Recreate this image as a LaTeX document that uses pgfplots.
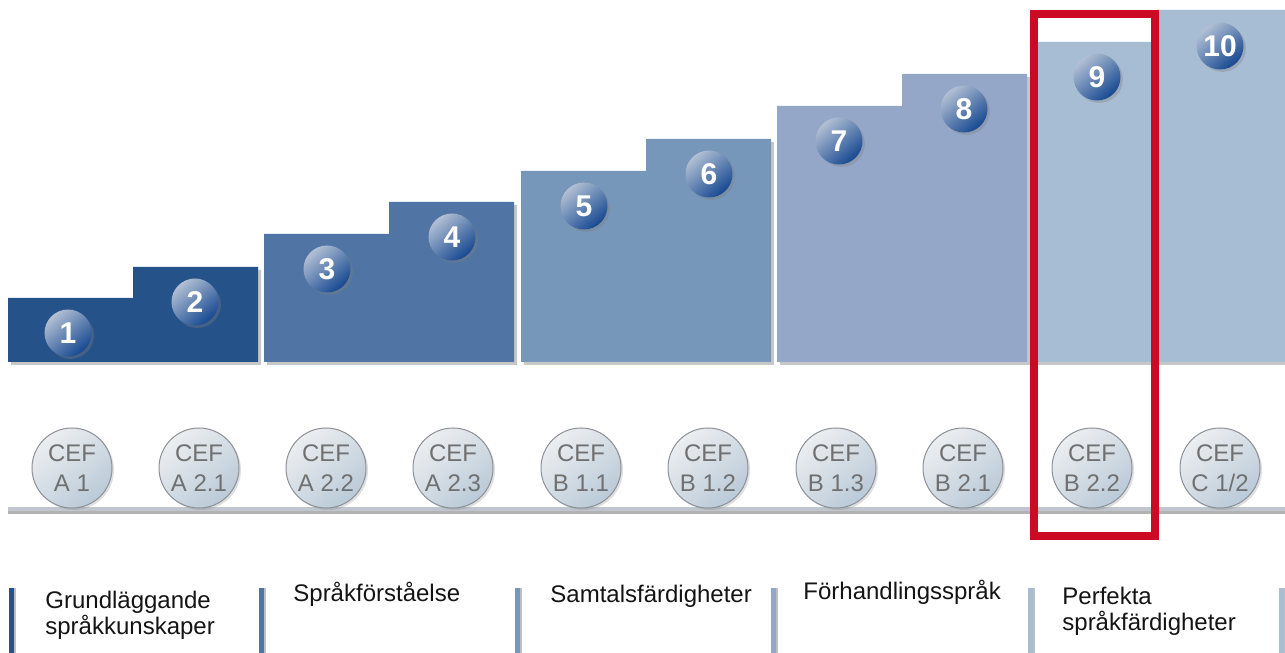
\documentclass[border=0pt]{standalone}
\usepackage{fontspec}
\setmainfont{Liberation Sans}
\usepackage{pgfplots}
\pgfplotsset{compat=1.18}
\usetikzlibrary{shadows}
\definecolor{g1}{RGB}{38,82,138}
\definecolor{g2}{RGB}{80,116,163}
\definecolor{g3}{RGB}{118,150,186}
\definecolor{g4}{RGB}{148,167,200}
\definecolor{g5}{RGB}{167,189,211}
\definecolor{boxred}{RGB}{204,10,36}
\definecolor{ballhi}{RGB}{178,192,212}
\definecolor{balllo}{RGB}{22,72,145}
\definecolor{cefhi}{RGB}{236,238,240}
\definecolor{ceflo}{RGB}{186,202,216}
\definecolor{cefrim}{RGB}{140,145,152}
\definecolor{ceftext}{RGB}{112,112,112}
\definecolor{baseline}{RGB}{192,198,206}
\pgfplotsset{
  shadowpoly/.style={fill=black, fill opacity=0.22, draw=none, xshift=1.5pt, yshift=-1.5pt, forget plot},
}
\begin{document}
\begin{tikzpicture}
\begin{axis}[x=0.5pt, y=0.5pt, xmin=0, xmax=1285, ymin=0, ymax=653,
  hide axis, clip=false]
% bar shadows
\addplot[shadowpoly] coordinates {(8,291)(8,355)(133,355)(133,386)(258,386)(258,291)};
\addplot[shadowpoly] coordinates {(264,291)(264,419)(389,419)(389,451)(514,451)(514,291)};
\addplot[shadowpoly] coordinates {(521,291)(521,482)(646,482)(646,514)(771,514)(771,291)};
\addplot[shadowpoly] coordinates {(777,291)(777,547)(902,547)(902,579)(1027,579)(1027,291)};
\addplot[shadowpoly] coordinates {(1034,291)(1034,611)(1157,611)(1157,643)(1285,643)(1285,291)};
% stepped bars
\addplot[fill=g1, draw=none] coordinates {(8,291)(8,355)(133,355)(133,386)(258,386)(258,291)};
\addplot[fill=g2, draw=none] coordinates {(264,291)(264,419)(389,419)(389,451)(514,451)(514,291)};
\addplot[fill=g3, draw=none] coordinates {(521,291)(521,482)(646,482)(646,514)(771,514)(771,291)};
\addplot[fill=g4, draw=none] coordinates {(777,291)(777,547)(902,547)(902,579)(1027,579)(1027,291)};
\addplot[fill=g5, draw=none] coordinates {(1034,291)(1034,611)(1157,611)(1157,643)(1285,643)(1285,291)};
% numbered balls
\addplot[draw=none, nodes near coords, point meta=explicit symbolic,
  every node near coord/.append style={anchor=center, circle, minimum size=23.5pt, inner sep=0pt,
    top color=ballhi, bottom color=balllo, shading angle=40, text=white,
    font=\bfseries\fontsize{15}{15}\selectfont,
    drop shadow={shadow xshift=1.2pt, shadow yshift=-1.2pt, opacity=0.35}}]
  coordinates {(68,320)[1] (195,351)[2] (327,384)[3] (452,416)[4] (584,447)[5]
               (709,479)[6] (839,512)[7] (964,544)[8] (1097,576)[9] (1220,607)[10]};
% baseline
\addplot[draw=black, opacity=0.3, line width=1.5pt] coordinates {(8,140.5)(1285,140.5)};
\addplot[draw=baseline, line width=2pt] coordinates {(8,144)(1285,144)};
% CEF circles
\addplot[draw=none, nodes near coords={CEF\\\pgfplotspointmeta}, point meta=explicit symbolic,
  every node near coord/.append style={anchor=center, circle, align=center, minimum size=40pt, inner sep=0pt,
    draw=cefrim, line width=0.5pt, top color=cefhi, bottom color=ceflo, shading angle=40,
    text=ceftext, font=\fontsize{12}{15}\selectfont,
    drop shadow={shadow xshift=1pt, shadow yshift=-1pt, opacity=0.25}}]
  coordinates {(72,185)[A 1] (199,185)[A 2.1] (326,185)[A 2.2] (453,185)[A 2.3] (581,185)[B 1.1]
               (708,185)[B 1.2] (836,185)[B 1.3] (963,185)[B 2.1] (1092,185)[B 2.2] (1220,185)[C 1/2]};
% red highlight box
\addplot[draw=boxred, line width=4pt, line join=miter] coordinates {(1034,638.5)(1154.5,638.5)(1154.5,117)(1034,117)} -- cycle;
% bottom separators
\addplot[draw=black, opacity=0.25, line width=2pt] coordinates {(14,65)(14,0)};
\addplot[draw=black, opacity=0.25, line width=2pt] coordinates {(264,65)(264,0)};
\addplot[draw=black, opacity=0.25, line width=2pt] coordinates {(520,65)(520,0)};
\addplot[draw=black, opacity=0.25, line width=2pt] coordinates {(776,65)(776,0)};
\addplot[draw=black, opacity=0.25, line width=2pt] coordinates {(1033,65)(1033,0)};
\addplot[draw=black, opacity=0.25, line width=2pt] coordinates {(1284,65)(1284,0)};
\addplot[draw=g1, line width=2.5pt] coordinates {(11,65)(11,0)};
\addplot[draw=g2, line width=2.5pt] coordinates {(261,65)(261,0)};
\addplot[draw=g3, line width=2.5pt] coordinates {(517,65)(517,0)};
\addplot[draw=g4, line width=2.5pt] coordinates {(773,65)(773,0)};
\addplot[draw=g5, line width=2.5pt] coordinates {(1030,65)(1030,0)};
\addplot[draw=g5, line width=2.5pt] coordinates {(1281,65)(1281,0)};
% labels
\begin{scope}[every node/.style={anchor=base west, inner sep=0pt, font=\fontsize{12}{12}\selectfont, text={rgb,255:red,20;green,20;blue,20}}]
\node at (axis cs:45,44) {Grundläggande};
\node at (axis cs:45,18) {språkkunskaper};
\node at (axis cs:293,51) {Språkförståelse};
\node at (axis cs:550,50) {Samtalsfärdigheter};
\node at (axis cs:803,53) {Förhandlingsspråk};
\node at (axis cs:1062,48) {Perfekta};
\node at (axis cs:1062,22) {språkfärdigheter};
\end{scope}
\end{axis}
\pgfresetboundingbox
\path[use as bounding box] (0,0) rectangle (642.5pt,326.5pt);
\end{tikzpicture}
\end{document}
